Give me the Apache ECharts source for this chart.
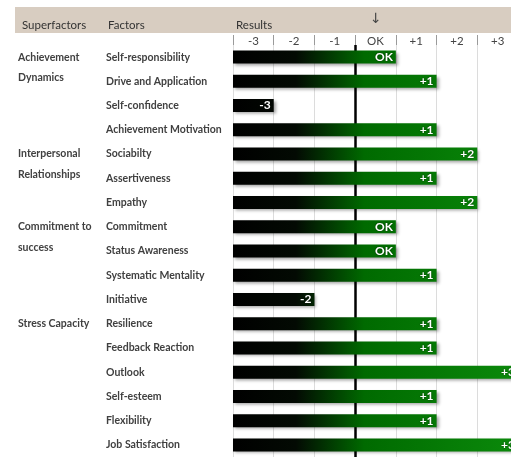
<!DOCTYPE html>
<html>
<head>
<meta charset="utf-8">
<script src="https://cdn.jsdelivr.net/npm/echarts@6/dist/echarts.min.js"></script>
<style>
  html, body { margin: 0; padding: 0; background: #ffffff; overflow: hidden; width: 511px; height: 457px; }
  #chart { width: 518px; height: 457px; }
</style>
</head>
<body>
<div id="chart"></div>
<script>
// ---- data ----
var factors = [
  "Self-responsibility", "Drive and Application", "Self-confidence", "Achievement Motivation",
  "Sociabilty", "Assertiveness", "Empathy",
  "Commitment", "Status Awareness", "Systematic Mentality", "Initiative",
  "Resilience", "Feedback Reaction", "Outlook", "Self-esteem", "Flexibility", "Job Satisfaction"
];
var superfactorRows = [
  "Achievement", "Dynamics", "", "",
  "Interpersonal", "Relationships", "",
  "Commitment to", "success", "", "",
  "Stress Capacity", "", "", "", "", ""
];
var scores = [0, 1, -3, 1, 2, 1, 2, 0, 0, 1, -2, 1, 1, 3, 1, 1, 3];
var scaleLabels = ["-3", "-2", "-1", "OK", "+1", "+2", "+3"];
var scoreMin = -3;
var scoreMax = 3;

function scoreText(s) {
  if (s === 0) return "OK";
  return s > 0 ? "+" + s : String(s);
}

var FONT = "Lato, 'Liberation Sans', sans-serif";
var chart = echarts.init(document.getElementById('chart'), null, { renderer: 'canvas' });

// each score occupies one band on the scale; bar fills up to the end of its band
var barData = scores.map(function (s) { return s - scoreMin + 1; });

var barGradient = new echarts.graphic.LinearGradient(233, 0, 518, 0, [
  { offset: 0, color: '#000000' },
  { offset: 0.22, color: '#030a03' },
  { offset: 0.46, color: '#006a00' },
  { offset: 1, color: '#0b8a0b' }
], true);

var option = {
  backgroundColor: '#ffffff',
  animation: false,
  grid: { left: 233, right: 0, top: 45, bottom: -1, containLabel: false },
  xAxis: [
    {
      type: 'value', min: 0, max: scoreMax - scoreMin + 1, interval: 1,
      axisLabel: { show: false }, axisLine: { show: false }, axisTick: { show: false },
      splitLine: { show: true, lineStyle: { color: '#dcdcdc', width: 1 } }
    },
    {
      type: 'category', position: 'top', data: scaleLabels, boundaryGap: true,
      axisLine: { show: false },
      axisTick: { show: true, length: 10, lineStyle: { color: '#9a9a9a' } },
      splitLine: { show: false },
      axisLabel: { margin: -2, color: '#444', fontFamily: FONT, fontSize: 11.5 }
    }
  ],
  yAxis: [
    {
      type: 'category', data: factors, inverse: true,
      axisLine: { show: false }, axisTick: { show: false }, splitLine: { show: false },
      axisLabel: { align: 'left', margin: 127, color: '#404040', fontWeight: 'bold', fontFamily: FONT, fontSize: 10.5 }
    },
    {
      type: 'category', data: factors, inverse: true, position: 'left',
      axisLine: { show: false }, axisTick: { show: false }, splitLine: { show: false },
      axisLabel: {
        align: 'left', margin: 215, color: '#404040', fontWeight: 'bold', fontFamily: FONT, fontSize: 10.5,
        interval: 0,
        formatter: function (v, i) {
          var t = superfactorRows[i];
          if (!t) return '';
          if (i > 0 && superfactorRows[i - 1]) return '{c|' + t + '}';
          return t;
        },
        rich: { c: { padding: [0, 0, 7, 0], color: '#404040', fontWeight: 'bold', fontFamily: FONT, fontSize: 10.5 } }
      }
    }
  ],
  series: [
    {
      type: 'bar', xAxisIndex: 0, yAxisIndex: 0, data: barData, barWidth: 13, z: 3,
      itemStyle: {
        color: barGradient,
        shadowColor: 'rgba(0,0,0,0.35)', shadowBlur: 3, shadowOffsetX: 2, shadowOffsetY: 2
      },
      label: {
        show: true, position: 'insideRight', distance: 3,
        color: '#ffffff', fontWeight: 'bold', fontFamily: FONT, fontSize: 12,
        textShadowColor: 'rgba(0,0,0,0.6)', textShadowBlur: 2,
        formatter: function (p) { return scoreText(scores[p.dataIndex]); }
      },
      markLine: {
        silent: true, z: 1, symbol: ['none', 'none'],
        label: { show: false },
        lineStyle: { color: '#000000', width: 2.5, type: 'solid' },
        data: [{ xAxis: 0 - scoreMin }]
      }
    }
  ],
  graphic: [
    { type: 'rect', z: 0, shape: { x: 15, y: 7, width: 503, height: 26 }, style: { fill: '#d8cdc1' } },
    { type: 'text', left: 22, top: 19, style: { text: 'Superfactors', fill: '#333', font: '11.5px ' + FONT } },
    { type: 'text', left: 108, top: 19, style: { text: 'Factors', fill: '#333', font: '11.5px ' + FONT } },
    { type: 'text', left: 236, top: 19, style: { text: 'Results', fill: '#333', font: '11.5px ' + FONT } },
    { type: 'text', left: 370, top: 12, style: { text: '\u2193', fill: '#444', font: '14px DejaVu Sans' } }
  ]
};
chart.setOption(option);
</script>
</body>
</html>
